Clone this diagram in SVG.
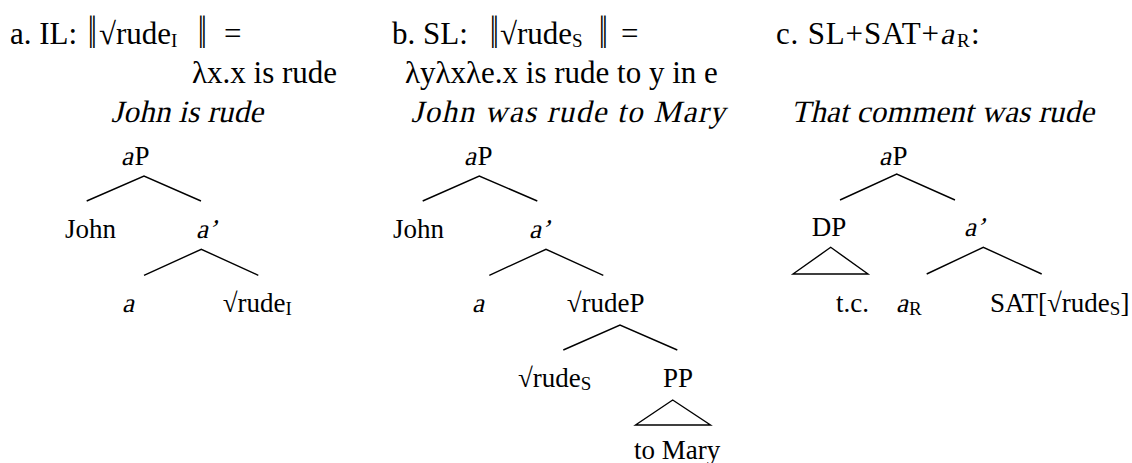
<svg xmlns="http://www.w3.org/2000/svg" width="1132" height="463" viewBox="0 0 1132 463">
  <style>
    text { font-family: "Liberation Serif", "Times New Roman", serif; fill: #000; }
    .hd { font-size: 31px; }
    .nd { font-size: 27px; }
    .sub { font-size: 19px; }
    .bar { font-size: 31px; }
    .edge { stroke: #000; stroke-width: 1.4; fill: none; }
  </style>
  <rect width="1132" height="463" fill="#fff"/>

  <!-- headings; italics are slanted roman glyphs -->
  <g id="head-a">
    <text class="hd" x="10" y="44">a. IL:</text>
    <text class="bar" x="88" y="44" transform="matrix(1 0 0 1.5 0 -18)">‖</text>
    <text class="hd" x="99" y="44">√rude<tspan class="sub" dy="3">I</tspan></text>
    <text class="bar" x="198" y="44" transform="matrix(1 0 0 1.5 0 -18)">‖</text>
    <text class="hd" x="224" y="44">=</text>
    <text class="hd" x="192" y="83">λx.x is rude</text>
    <text class="hd" transform="translate(111,122) skewX(-13)" textLength="152" lengthAdjust="spacing">John is rude</text>
  </g>
  <g id="head-b">
    <text class="hd" x="392" y="44">b. SL:</text>
    <text class="bar" x="490" y="44" transform="matrix(1 0 0 1.5 0 -18)">‖</text>
    <text class="hd" x="500" y="44">√rude<tspan class="sub" dy="3">S</tspan></text>
    <text class="bar" x="599" y="44" transform="matrix(1 0 0 1.5 0 -18)">‖</text>
    <text class="hd" x="621" y="44">=</text>
    <text class="hd" x="405" y="83">λyλxλe.x is rude to y in e</text>
    <text class="hd" transform="translate(411,122) skewX(-13)" textLength="314" lengthAdjust="spacing">John was rude to Mary</text>
  </g>
  <g id="head-c">
    <text class="hd" x="776" y="44" textLength="163" lengthAdjust="spacing">c. SL+SAT+</text>
    <text class="hd" transform="translate(940,44) skewX(-13)">a</text>
    <text class="sub" x="957" y="47">R</text>
    <text class="hd" x="971" y="44">:</text>
    <text class="hd" transform="translate(791,122) skewX(-13)" textLength="303" lengthAdjust="spacing">That comment was rude</text>
  </g>

  <!-- connectors -->
  <g id="connectors" class="edge">
    <!-- tree a -->
    <polyline points="86.7,201 144,176 201,201"/>
    <polyline points="144,275.3 201.3,249.3 258.3,275.3"/>
    <!-- tree b -->
    <polyline points="422.7,201 479.3,176 537.3,201"/>
    <polyline points="489.3,275.3 546,249.3 603.3,275.3"/>
    <polyline points="563.3,350 620,325 677.3,350"/>
    <polygon points="635.5,425 672.7,400 710.5,425"/>
    <!-- tree c -->
    <polyline points="840,200 896.7,174 955,200"/>
    <polygon points="793,274 830.7,247.3 868,274"/>
    <polyline points="926.7,274 983.3,247.3 1041.7,274"/>
  </g>

  <!-- tree a -->
  <g id="a-aP">
    <text class="nd" transform="translate(121,165) skewX(-13)">a</text>
    <text class="nd" x="134.5" y="165">P</text>
  </g>
  <g id="a-John"><text class="nd" x="65" y="238">John</text></g>
  <g id="a-abar"><text class="nd" transform="translate(196,238) skewX(-13)">a’</text></g>
  <g id="a-a"><text class="nd" transform="translate(122,311.7) skewX(-13)">a</text></g>
  <g id="a-rootI"><text class="nd" x="222.7" y="311.7">√rude<tspan class="sub" dy="3">I</tspan></text></g>

  <!-- tree b -->
  <g id="b-aP">
    <text class="nd" transform="translate(464,165) skewX(-13)">a</text>
    <text class="nd" x="477.5" y="165">P</text>
  </g>
  <g id="b-John"><text class="nd" x="393" y="238">John</text></g>
  <g id="b-abar"><text class="nd" transform="translate(529,238) skewX(-13)">a’</text></g>
  <g id="b-a"><text class="nd" transform="translate(472,311.7) skewX(-13)">a</text></g>
  <g id="b-rootP"><text class="nd" x="566.7" y="311.7">√rudeP</text></g>
  <g id="b-rootS"><text class="nd" x="518" y="386.7">√rude<tspan class="sub" dy="3">S</tspan></text></g>
  <g id="b-PP"><text class="nd" x="663" y="386.7">PP</text></g>
  <g id="b-toMary"><text class="nd" x="634" y="459">to Mary</text></g>

  <!-- tree c -->
  <g id="c-aP">
    <text class="nd" transform="translate(879,165) skewX(-13)">a</text>
    <text class="nd" x="892.5" y="165">P</text>
  </g>
  <g id="c-DP"><text class="nd" x="811.7" y="236">DP</text></g>
  <g id="c-abar"><text class="nd" transform="translate(964,236) skewX(-13)">a’</text></g>
  <g id="c-tc"><text class="nd" x="836" y="311.7">t.c.</text></g>
  <g id="c-aR">
    <text class="nd" transform="translate(896,311.7) skewX(-13)">a</text>
    <text class="sub" x="909" y="314.7">R</text>
  </g>
  <g id="c-sat"><text class="nd" x="990" y="311.7">SAT[√rude<tspan class="sub" dy="3">S</tspan><tspan dy="-3">]</tspan></text></g>
</svg>
